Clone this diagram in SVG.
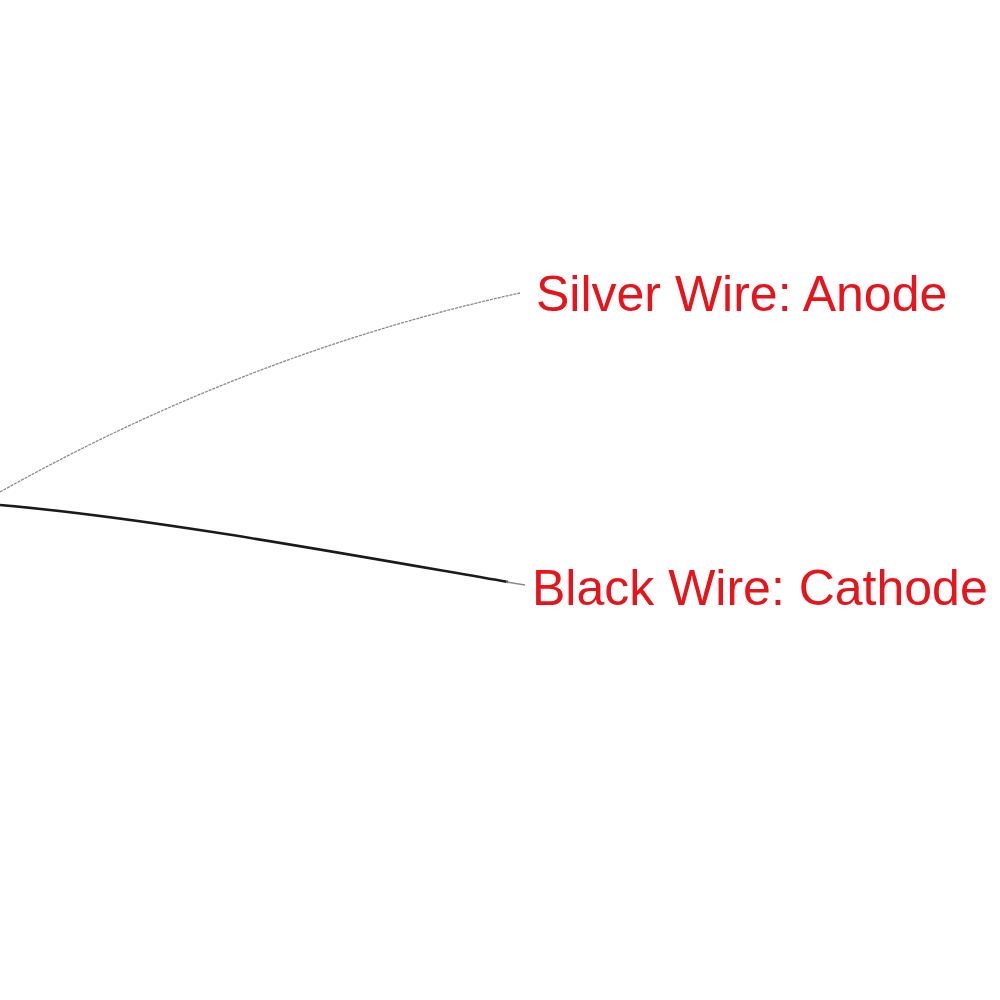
<svg xmlns="http://www.w3.org/2000/svg" width="1000" height="1000" viewBox="0 0 1000 1000">
<style>
.lbl{font-family:"Liberation Sans",Arial,sans-serif;font-size:50px;fill:#e8141c}
</style>
<rect width="1000" height="1000" fill="#fff"/>
<g id="connectors" fill="none">
<path d="M0,492 Q250,352 520,293" stroke="#8a8a8a" stroke-width="1.3" stroke-dasharray="3 1"/>
<path d="M0,505 C150,518 340,553 508,582" stroke="#1a1a1a" stroke-width="2.6"/>
<path d="M506,582 L525,585" stroke="#8a8a8a" stroke-width="1.5"/>
</g>
<g id="anode"><text class="lbl" x="536" y="311">Silver Wire: Anode</text></g>
<g id="cathode"><text class="lbl" x="532" y="605">Black Wire: Cathode</text></g>
</svg>
